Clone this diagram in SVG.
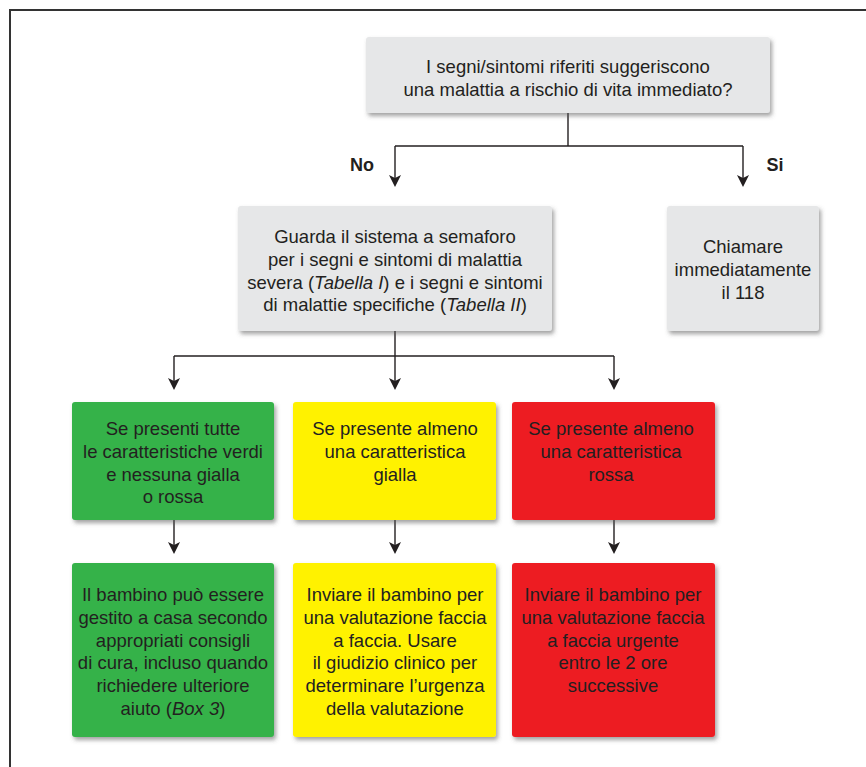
<svg xmlns="http://www.w3.org/2000/svg" width="866" height="767" viewBox="0 0 866 767">
<defs>
<filter id="sh" x="-10%" y="-10%" width="125%" height="130%">
<feDropShadow dx="2" dy="3" stdDeviation="2" flood-color="#555" flood-opacity="0.55"/>
</filter>
<style>
.t{font-family:"Liberation Sans","Noto Sans",Arial,sans-serif;font-size:18.5px;fill:#231f20;text-anchor:middle}
.b{font-weight:bold;font-size:18px}
.g{fill:#e6e7e8}
.gr{fill:#35b24a}
.ye{fill:#fff200}
.re{fill:#ed1c24}
.c{fill:none;stroke:#231f20;stroke-width:1.4}
</style>
</defs>
<rect x="0" y="0" width="866" height="767" fill="#fff"/>
<path d="M10,767 V10 H866" fill="none" stroke="#333" stroke-width="2"/>

<g id="connectors">
<path class="c" d="M568,113 V146"/>
<path class="c" d="M395,146 H743"/>
<path class="c" d="M395,146 V185"/>
<path class="c" d="M743,146 V185"/>
<path class="c" d="M395,331 V388"/>
<path class="c" d="M174,356 H614"/>
<path class="c" d="M174,356 V388"/>
<path class="c" d="M614,356 V388"/>
<path class="c" d="M174,520 V552"/>
<path class="c" d="M395,520 V552"/>
<path class="c" d="M614,520 V552"/>
<g fill="#231f20">
<path d="M389,175 L395,178 L401,175 L395,187 Z"/>
<path d="M737,175 L743,178 L749,175 L743,187 Z"/>
<path d="M168,378 L174,381 L180,378 L174,390 Z"/>
<path d="M389,378 L395,381 L401,378 L395,390 Z"/>
<path d="M608,378 L614,381 L620,378 L614,390 Z"/>
<path d="M168,542 L174,545 L180,542 L174,554 Z"/>
<path d="M389,542 L395,545 L401,542 L395,554 Z"/>
<path d="M608,542 L614,545 L620,542 L614,554 Z"/>
</g>
<text class="t b" x="362" y="171">No</text>
<text class="t b" x="775" y="171">Si</text>
</g>

<g id="q1">
<rect class="g" x="366" y="37" width="404" height="76" rx="3" filter="url(#sh)"/>
<text class="t" x="568" y="73">I segni/sintomi riferiti suggeriscono</text>
<text class="t" x="568" y="96">una malattia a rischio di vita immediato?</text>
</g>

<g id="guarda">
<rect class="g" x="238" y="206" width="314" height="125" rx="3" filter="url(#sh)"/>
<text class="t" x="395" y="243">Guarda il sistema a semaforo</text>
<text class="t" x="395" y="266">per i segni e sintomi di malattia</text>
<text class="t" x="395" y="289">severa (<tspan font-style="italic">Tabella I</tspan>) e i segni e sintomi</text>
<text class="t" x="395" y="311">di malattie specifiche (<tspan font-style="italic">Tabella II</tspan>)</text>
</g>

<g id="chiamare">
<rect class="g" x="667" y="206" width="152" height="125" rx="3" filter="url(#sh)"/>
<text class="t" x="743" y="253">Chiamare</text>
<text class="t" x="743" y="276">immediatamente</text>
<text class="t" x="743" y="299">il 118</text>
</g>

<g id="verde">
<rect class="gr" x="72" y="402" width="202" height="118" rx="3" filter="url(#sh)"/>
<text class="t" x="173" y="435">Se presenti tutte</text>
<text class="t" x="173" y="458">le caratteristiche verdi</text>
<text class="t" x="173" y="481">e nessuna gialla</text>
<text class="t" x="173" y="503">o rossa</text>
</g>

<g id="giallo">
<rect class="ye" x="293" y="402" width="203" height="118" rx="3" filter="url(#sh)"/>
<text class="t" x="395" y="435">Se presente almeno</text>
<text class="t" x="395" y="458">una caratteristica</text>
<text class="t" x="395" y="481">gialla</text>
</g>

<g id="rosso">
<rect class="re" x="512" y="402" width="203" height="118" rx="3" filter="url(#sh)"/>
<text class="t" x="611" y="435">Se presente almeno</text>
<text class="t" x="611" y="458">una caratteristica</text>
<text class="t" x="611" y="481">rossa</text>
</g>

<g id="casa">
<rect class="gr" x="72" y="563" width="202" height="174" rx="3" filter="url(#sh)"/>
<text class="t" x="173" y="601">Il bambino può essere</text>
<text class="t" x="173" y="624">gestito a casa secondo</text>
<text class="t" x="173" y="647">appropriati consigli</text>
<text class="t" x="173" y="669">di cura, incluso quando</text>
<text class="t" x="173" y="692">richiedere ulteriore</text>
<text class="t" x="173" y="715">aiuto (<tspan font-style="italic">Box 3</tspan>)</text>
</g>

<g id="valutazione">
<rect class="ye" x="293" y="563" width="203" height="174" rx="3" filter="url(#sh)"/>
<text class="t" x="395" y="601">Inviare il bambino per</text>
<text class="t" x="395" y="624">una valutazione faccia</text>
<text class="t" x="395" y="647">a faccia. Usare</text>
<text class="t" x="395" y="669">il giudizio clinico per</text>
<text class="t" x="395" y="692">determinare l’urgenza</text>
<text class="t" x="395" y="715">della valutazione</text>
</g>

<g id="urgente">
<rect class="re" x="512" y="563" width="203" height="174" rx="3" filter="url(#sh)"/>
<text class="t" x="613" y="601">Inviare il bambino per</text>
<text class="t" x="613" y="624">una valutazione faccia</text>
<text class="t" x="613" y="647">a faccia urgente</text>
<text class="t" x="613" y="669">entro le 2 ore</text>
<text class="t" x="613" y="692">successive</text>
</g>
</svg>
